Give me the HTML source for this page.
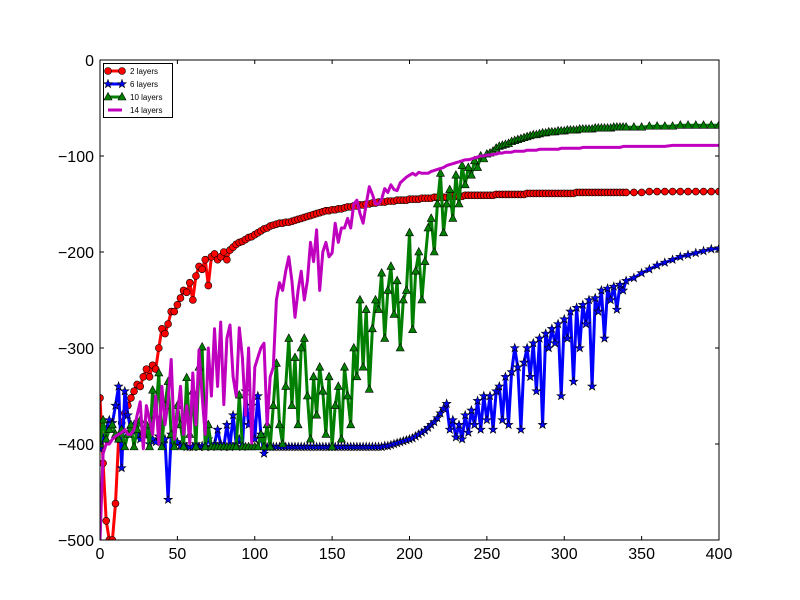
<!DOCTYPE html>
<html><head><meta charset="utf-8"><style>
body{margin:0;background:#fff}
svg{display:block;font-family:"Liberation Sans",sans-serif}
</style></head><body>
<svg id="chart" width="800" height="600" viewBox="0 0 800 600" xmlns="http://www.w3.org/2000/svg">
<defs><clipPath id="clip"><rect x="100" y="60" width="619" height="480"/></clipPath></defs>
<rect x="0" y="0" width="800" height="600" fill="#fff"/>
<g id="series" clip-path="url(#clip)"></g>
<g id="axes"></g>
<g id="legend"></g>
</svg>
<script>
// shared x values: 0..340 step 2, then 345..400 step 5
const xsA = [];
for (let i = 0; i <= 340; i += 2) xsA.push(i);
for (let i = 345; i <= 400; i += 5) xsA.push(i);
const xValues = xsA;

const red2 = [
-352,-420,-480,-500,-500,-462,-395,-378,-368,-360,
-352,-345,-338,-340,-330,-322,-330,-318,-322,-300,
-280,-285,-275,-262,-262,-255,-248,-240,-242,-232,
-250,-225,-215,-218,-208,-235,-205,-202,-208,-205,
-200,-208,-198,-195,-192,-190,-189,-187,-185,-184,
-182,-180,-178,-176,-175,-173,-172,-171,-170,-170,
-169,-169,-168,-167,-166,-165,-164,-163,-162,-161,
-160,-159,-158,-157,-157,-156,-156,-155,-155,-154,
-153,-153,-152,-152,-151,-151,-150,-150,-149,-149,
-148,-148,-148,-147,-147,-147,-146,-146,-146,-146,
-145,-145,-145,-145,-144,-144,-144,-144,-143,-143,
-143,-143,-143,-142,-142,-142,-142,-142,-141,-141,
-141,-141,-141,-141,-141,-141,
-141,-141,-140,-140,-140,-140,-140,-140,-140,-140,
-140,-140,-139,-139,-139,-139,-139,-139,-139,-139,
-139,-139,-139,-139,-139,-139,-139,-139,-138,-138,
-138,-138,-138,-138,-138,-138,-138,-138,-138,-138,
-138,-138,-138,-138,-138,
-138,-138,-137,-137,-137,-137,-137,-137,-137,-137,-137,-137];

const blue6 = [
-405,-395,-385,-375,-378,-360,-340,-425,-345,-370,
-385,-380,-390,-395,-390,-385,-400,-395,-398,-392,
-400,-395,-458,-390,-400,-398,-402,-400,-403,-403,
-403,-400,-403,-402,-403,-395,-403,-400,-385,-400,
-403,-380,-403,-370,-400,-395,-403,-345,-380,-360,
-395,-350,-390,-410,-403,-403,-403,-403,-403,-403,
-403,-403,-403,-403,-403,-403,-403,-403,-403,-403,
-403,-403,-403,-403,-403,-403,-403,-403,-403,-403,
-403,-403,-403,-403,-403,-403,-403,-403,-403,-403,
-403,-403,-402,-402,-401,-400,-399,-398,-397,-396,
-395,-394,-392,-390,-388,-386,-383,-380,-377,-373,
-368,-363,-358,-385,-375,-393,-380,-395,-370,-388,
-365,-380,-355,-385,-350,-375,
-350,-385,-345,-340,-375,-330,-380,-325,-300,-320,
-385,-315,-300,-330,-295,-345,-290,-380,-285,-300,
-280,-295,-275,-350,-270,-290,-262,-335,-258,-300,
-255,-275,-250,-340,-248,-262,-240,-290,-238,-250,
-236,-260,-234,-240,-230,
-227,-222,-218,-214,-211,-208,-205,-203,-201,-199,-197,-196];

const green10 = [
-400,-375,-395,-385,-380,-390,-395,-385,-403,-390,
-380,-403,-385,-375,-390,-380,-403,-344,-370,-326,
-403,-360,-335,-390,-403,-360,-380,-403,-331,-390,
-345,-403,-320,-299,-403,-380,-403,-403,-403,-403,
-403,-403,-403,-403,-403,-349,-403,-403,-403,-403,
-403,-403,-390,-403,-380,-403,-360,-316,-380,-400,
-340,-290,-360,-310,-380,-300,-290,-350,-395,-330,
-370,-320,-345,-390,-330,-403,-360,-340,-395,-320,
-350,-380,-300,-330,-250,-320,-260,-343,-280,-250,
-260,-222,-290,-240,-215,-265,-230,-300,-250,-240,
-180,-281,-220,-200,-250,-210,-175,-165,-200,-150,
-118,-180,-150,-135,-165,-120,-150,-110,-130,-112,
-120,-105,-112,-100,-103,-98,
-97,-95,-92,-90,-89,-88,-87,-85,-84,-83,
-82,-81,-80,-79,-78,-78,-77,-76,-76,-75,
-75,-75,-74,-74,-74,-73,-73,-73,-73,-72,
-72,-72,-72,-72,-71,-71,-71,-71,-71,-71,
-70,-70,-70,-70,-70,
-70,-70,-69,-69,-69,-69,-68,-68,-68,-68,-68,-68];

const magenta14 = [
-500,-410,-400,-400,-395,-392,-390,-388,-385,-390,
-390,-385,-370,-356,-405,-360,-375,-390,-350,-400,
-340,-380,-355,-312,-395,-370,-340,-390,-360,-400,
-326,-380,-302,-350,-390,-300,-350,-280,-340,-273,
-359,-290,-276,-330,-350,-279,-310,-370,-300,-399,
-320,-310,-300,-295,-380,-330,-320,-250,-232,-240,
-220,-205,-230,-268,-240,-220,-250,-230,-190,-210,
-177,-240,-200,-190,-205,-201,-170,-190,-175,-175,
-165,-175,-150,-146,-160,-170,-150,-132,-140,-150,
-150,-145,-134,-138,-130,-135,-136,-128,-125,-122,
-120,-118,-120,-117,-118,-118,-118,-116,-115,-114,
-113,-112,-110,-109,-108,-107,-106,-105,-104,-104,
-103,-102,-101,-100,-100,-99,
-99,-98,-98,-97,-97,-96,-96,-96,-95,-95,
-95,-95,-94,-94,-94,-94,-93,-93,-93,-93,
-93,-93,-93,-92,-92,-92,-92,-92,-92,-92,
-91,-91,-91,-91,-91,-91,-91,-91,-91,-91,
-91,-91,-91,-90,-90,
-90,-90,-90,-90,-90,-89,-89,-89,-89,-89,-89,-89];

const seriesLabels = ["2 layers","6 layers","10 layers","14 layers"];
const xTicks = [0,50,100,150,200,250,300,350,400];
const yTicks = [0,-100,-200,-300,-400,-500];

const NS = "http://www.w3.org/2000/svg";
const X0=100, X1=719, Y0=60, Y1=540;
const sx = v => X0 + (v-0)/(400-0)*(X1-X0);
const sy = v => Y0 + (0-v)/(0-(-500))*(Y1-Y0);
function mk(tag, attrs, parent){const e=document.createElementNS(NS,tag);for(const k in attrs)e.setAttribute(k,attrs[k]);parent.appendChild(e);return e;}

function starPts(cx,cy,r){let p=[];for(let i=0;i<10;i++){const a=-Math.PI/2+i*Math.PI/5;const rr=i%2?r*0.4:r;p.push((cx+rr*Math.cos(a)).toFixed(1)+","+(cy+rr*Math.sin(a)).toFixed(1));}return p.join(" ");}
function marker(kind,cx,cy,color,parent){
  let m;
  if(kind==="circle") m=mk("circle",{cx,cy,r:3.5,fill:color,stroke:"#000","stroke-width":0.6},parent);
  else if(kind==="star") m=mk("polygon",{points:starPts(cx,cy,4.5),fill:color,stroke:"#000","stroke-width":0.6},parent);
  else if(kind==="tri") m=mk("polygon",{points:`${cx},${cy-4.5} ${cx-4},${cy+3} ${cx+4},${cy+3}`,fill:color,stroke:"#000","stroke-width":0.6},parent);
  return m;
}

const defs = [
  {name:"series-2-layers", data:red2, color:"#ff0000", mark:"circle"},
  {name:"series-6-layers", data:blue6, color:"#0000ff", mark:"star"},
  {name:"series-10-layers", data:green10, color:"#007f00", mark:"tri"},
  {name:"series-14-layers", data:magenta14, color:"#bf00bf", mark:null}
];
const sg = document.getElementById("series");
defs.forEach(d=>{
  const g = mk("g",{},sg);
  
  
  const pts = d.data.map((v,i)=>sx(xValues[i]).toFixed(1)+","+sy(v).toFixed(1)).join(" ");
  const pl = mk("polyline",{points:pts,fill:"none",stroke:d.color,"stroke-width":3,"stroke-linejoin":"round"},g);
  
  
  if(d.mark){
    d.data.forEach((v,i)=>{
      const m = marker(d.mark,sx(xValues[i]),sy(v),d.color,g);
      
      
    });
  }
});

const ax = document.getElementById("axes");
const frame = mk("rect",{x:X0,y:Y0,width:X1-X0,height:Y1-Y0,fill:"none",stroke:"#000","stroke-width":1},ax);


xTicks.forEach(t=>{
  const x=sx(t);
  mk("line",{x1:x,y1:Y1,x2:x,y2:Y1-4,stroke:"#000"},ax);
  mk("line",{x1:x,y1:Y0,x2:x,y2:Y0+4,stroke:"#000"},ax);
  const tx = mk("text",{x:x,y:Y1+19,"font-size":16,"text-anchor":"middle",fill:"#000"},ax);
  tx.textContent = t;
  
  
});
yTicks.forEach(t=>{
  const y=sy(t);
  mk("line",{x1:X0,y1:y,x2:X0+4,y2:y,stroke:"#000"},ax);
  mk("line",{x1:X1,y1:y,x2:X1-4,y2:y,stroke:"#000"},ax);
  const tx = mk("text",{x:X0-6,y:y+6,"font-size":16,"text-anchor":"end",fill:"#000"},ax);
  tx.textContent = t===0?"0":"\u2212"+Math.abs(t);
  
  
});

const lg = document.getElementById("legend");
mk("rect",{x:103.5,y:63.5,width:69,height:54,fill:"#fff",stroke:"#000","stroke-width":1},lg);
defs.forEach((d,i)=>{
  const y = 71+i*13;
  const e = mk("g",{},lg);
  
  
  mk("line",{x1:108,y1:y,x2:122,y2:y,stroke:d.color,"stroke-width":3},e);
  if(d.mark){marker(d.mark,108,y,d.color,e);marker(d.mark,122,y,d.color,e);}
  const t = mk("text",{x:130,y:y+3,"font-size":8,fill:"#000"},e);
  t.textContent = seriesLabels[i];
});
</script>
</body></html>
